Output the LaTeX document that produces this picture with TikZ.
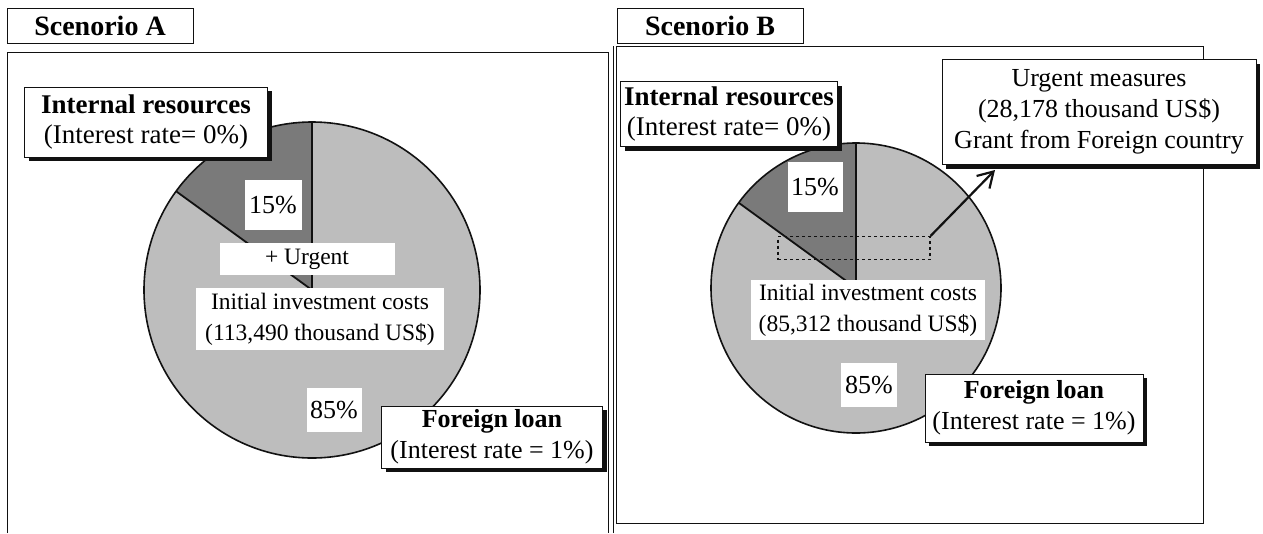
\documentclass[tikz,border=0pt]{standalone}
\usepackage{fontspec}
\setmainfont{Liberation Serif}
\usetikzlibrary{arrows.meta,shadows}
\definecolor{ink}{HTML}{111111}
\definecolor{slicelight}{HTML}{BDBDBD}
\definecolor{slicedark}{HTML}{7A7A7A}

\begin{document}
\begin{tikzpicture}[x=1pt,y=-1pt,
  txt/.style={font=\fontsize{26}{31}\selectfont},
  lbl/.style={txt,fill=white,inner sep=0pt,align=center},
  tag/.style={lbl,draw=ink,line width=0.9pt,font=\fontsize{28}{32}\selectfont\bfseries},
  shbox/.style={lbl,draw=ink,line width=0.9pt,
    drop shadow={shadow xshift=4pt,shadow yshift=-4pt,fill=ink,opacity=1}},
  small/.style={font=\fontsize{23.5}{31}\selectfont},
  frame/.style={draw=ink,line width=0.8pt}]

  \useasboundingbox (0,0) rectangle (1263,533);
  \fill[white] (0,0) rectangle (1263,533);

  % the two panels
  \draw[frame] (7,533) -- (7,52) -- (608,52) -- (608,533);
  \draw[frame] (613,533) -- (613,46);
  \draw[frame] (616,46) rectangle (1203,523);
  \node[tag,minimum width=186pt,minimum height=35pt] (scenA) at (100,26) {Scenorio A};
  \node[tag,minimum width=186pt,minimum height=35pt] (scenB) at (710,26) {Scenorio B};

  % pies: 15% internal (dark), 85% loan (light)
  \coordinate (pA) at (312,290);
  \coordinate (pB) at (856,288);
  \foreach \c/\r in {pA/168pt,pB/145pt}{
    \fill[slicelight] (\c) circle[radius=\r];
    \fill[slicedark] (\c) -- ++(90:\r) arc[start angle=90,end angle=144,radius=\r] -- cycle;
    \draw[ink,line width=1.6pt] (\c) circle[radius=\r];
    \draw[ink,line width=1.2pt] (\c) -- ++(90:\r);
    \draw[ink,line width=1.8pt] (\c) -- ++(144:\r);
  }

  % scenario A
  \node[shbox,minimum width=243pt,minimum height=70pt,font=\fontsize{27}{30}\selectfont]
    (intA) at (146,122) {\textbf{Internal resources}\\(Interest rate= 0\%)};
  \node[lbl,minimum width=57pt,minimum height=50pt] (pctA15) at (273,205) {15\%};
  \node[lbl,small,minimum width=175pt,minimum height=32pt] (urgA) at (307,259) {+ Urgent};
  \node[lbl,small,minimum width=248pt,minimum height=62pt]
    (costA) at (320,319) {Initial investment costs\\(113,490 thousand US\$)};
  \node[lbl,minimum width=55pt,minimum height=44pt] (pctA85) at (334,410) {85\%};
  \node[shbox,minimum width=221pt,minimum height=62pt]
    (loanA) at (492,437) {\textbf{Foreign loan}\\(Interest rate = 1\%)};

  % scenario B
  \node[shbox,minimum width=217pt,minimum height=65pt,font=\fontsize{27}{30}\selectfont]
    (intB) at (729,114) {\textbf{Internal resources}\\(Interest rate= 0\%)};
  \node[lbl,minimum width=55pt,minimum height=50pt] (pctB15) at (815,187) {15\%};
  \node[draw=ink,dashed,line width=1.2pt,inner sep=0pt,
    minimum width=152pt,minimum height=23pt] (cutB) at (854,248) {};
  \node[lbl,small,minimum width=234pt,minimum height=60pt]
    (costB) at (868,310) {Initial investment costs\\(85,312 thousand US\$)};
  \node[lbl,minimum width=56pt,minimum height=44pt] (pctB85) at (869,385) {85\%};
  \node[shbox,minimum width=218pt,minimum height=68pt]
    (loanB) at (1034,408) {\textbf{Foreign loan}\\(Interest rate = 1\%)};
  \node[shbox,minimum width=314pt,minimum height=105pt]
    (grantB) at (1099,112) {Urgent measures\\(28,178 thousand US\$)\\Grant from Foreign country};
  \coordinate (tipB) at (995,170);
  \draw[ink,line width=2.2pt,-{Straight Barb[length=15pt,width=18pt]}] (cutB.north east) -- (tipB);
\end{tikzpicture}
\end{document}
